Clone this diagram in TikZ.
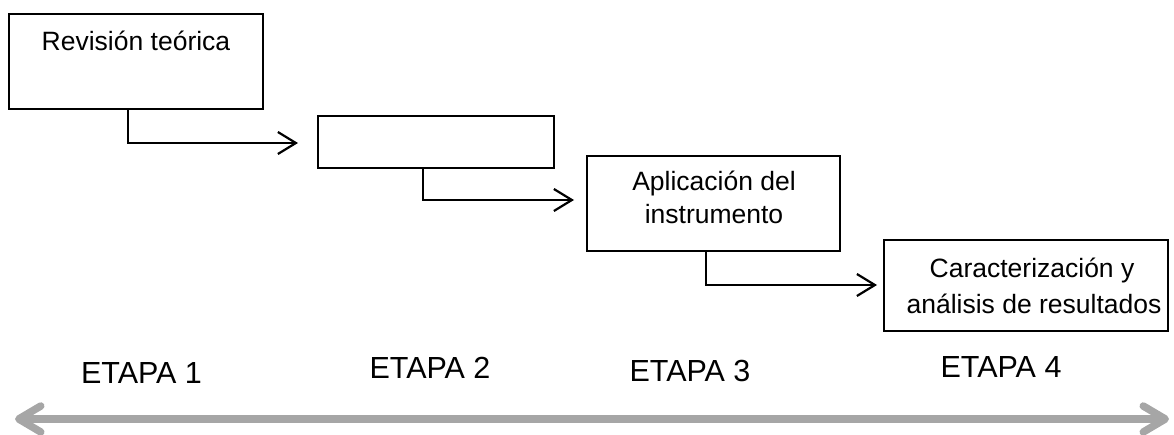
\documentclass[tikz,border=0pt]{standalone}
\usepackage{fontspec}
\setmainfont{Liberation Sans}
\usetikzlibrary{arrows.meta}
\definecolor{timegray}{HTML}{A6A6A6}
\begin{document}
\begin{tikzpicture}[x=1pt,y=-1pt,
  box/.style={draw=black, line width=2.2pt, fill=white, inner sep=0pt, minimum width=#1},
  boxtext/.style={anchor=base, inner sep=0pt, font=\fontsize{26.5}{34}\selectfont},
  stagetext/.style={anchor=base, inner sep=0pt, font=\fontsize{30.5}{34}\selectfont},
  conn/.style={draw=black, line width=2.2pt, -{Straight Barb[length=18pt,width=22pt]}},
  timeline/.style={draw=timegray, line width=7.5pt, line cap=round,
     {Straight Barb[length=22pt,width=26pt,round]}-{Straight Barb[length=22pt,width=26pt,round]}}]
\useasboundingbox (0,0) rectangle (1174,434);
% boxes
\node[box=254pt, minimum height=95pt] (b1) at (136,61.5) {};
\node[box=236pt, minimum height=52pt] (b2) at (436,142) {};
\node[box=253pt, minimum height=95pt] (b3) at (713.5,203.5) {};
\node[box=284pt, minimum height=91pt] (b4) at (1026,285.5) {};
% texts
\node[boxtext] (t1) at (136,50) {Revisión teórica};
\node[boxtext] (t3a) at (714,190) {Aplicación del};
\node[boxtext] (t3b) at (714,223) {instrumento};
\node[boxtext] (t4a) at (1032,277) {Caracterización y};
\node[boxtext] (t4b) at (1034,313) {análisis de resultados};
% connectors
\coordinate (k1) at (128,143);
\coordinate (e1) at (298,143);
\coordinate (k2) at (423,200);
\coordinate (e2) at (574,200);
\coordinate (k3) at (706,285);
\coordinate (e3) at (877,285);
\draw[conn] (b1.south -| k1) -- (k1) -- (e1);
\draw[conn] (b2.south -| k2) -- (k2) -- (e2);
\draw[conn] (b3.south -| k3) -- (k3) -- (e3);
% stages
\node[stagetext] (s1) at (141.5,383) {ETAPA 1};
\node[stagetext] (s2) at (430,378) {ETAPA 2};
\node[stagetext] (s3) at (690,381) {ETAPA 3};
\node[stagetext] (s4) at (1001,377) {ETAPA 4};
% timeline
\coordinate (l1) at (15,419);
\coordinate (l2) at (1169,419);
\draw[timeline] (l1) -- (l2);
\end{tikzpicture}
\end{document}
